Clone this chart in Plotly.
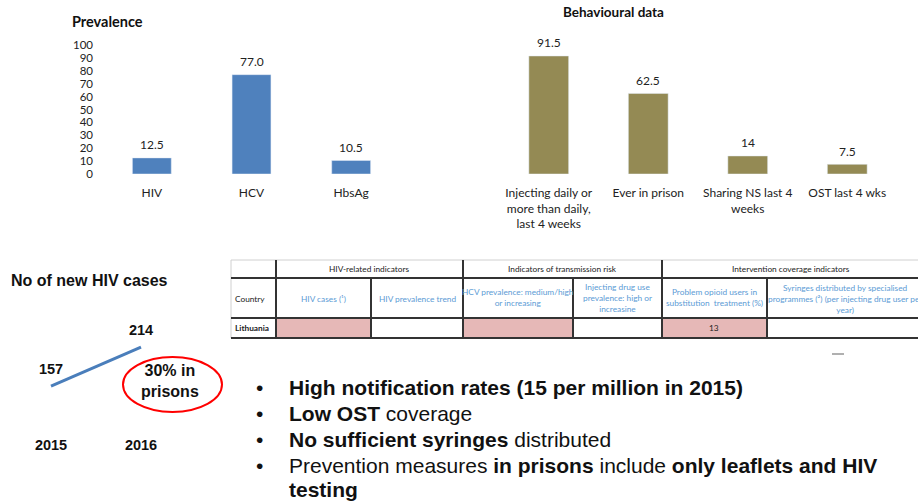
import plotly.graph_objects as go

# ── Data ────────────────────────────────────────────────────────────────────────
prev_labels = ["HIV", "HCV", "HbsAg"]
prev_values = [12.5, 77.0, 10.5]
prev_text = ["12.5", "77.0", "10.5"]

behav_labels = [
    "Injecting daily or<br>more than daily,<br>last 4 weeks",
    "Ever in prison",
    "Sharing NS last 4<br>weeks",
    "OST last 4 wks",
]
behav_values = [91.5, 62.5, 14, 7.5]
behav_text = ["91.5", "62.5", "14", "7.5"]

years = ["2015", "2016"]
new_hiv_cases = [157, 214]

W, H = 918, 502
CHART_FONT = "Lato, 'Open Sans', sans-serif"
ARIAL = "'Liberation Sans', Arial, sans-serif"
BLUE = "#4F81BD"
OLIVE = "#948A54"
PINK = "#E6B8B7"
HDR_BLUE = "#5B9BD5"


def px(x):
    return x / W


def py(y):
    return 1 - y / H


fig = go.Figure()

# ── Prevalence bars ─────────────────────────────────────────────────────────────
fig.add_trace(go.Bar(
    x=prev_labels, y=prev_values,
    marker_color=BLUE, width=0.39,
    xaxis="x", yaxis="y", showlegend=False,
))

# ── Behavioural bars ────────────────────────────────────────────────────────────
fig.add_trace(go.Bar(
    x=behav_labels, y=behav_values,
    marker_color=OLIVE, width=0.40,
    xaxis="x2", yaxis="y2", showlegend=False,
))

# ── New HIV cases line (invisible markers push the labels up a little) ─────────
fig.add_trace(go.Scatter(
    x=years, y=new_hiv_cases, text=[str(v) for v in new_hiv_cases],
    mode="lines+markers+text", textposition="top center", cliponaxis=False,
    textfont=dict(family=ARIAL, size=14.5, color="#111", weight="bold"),
    marker=dict(size=12, color="rgba(0,0,0,0)"),
    line=dict(color="#4A7EBB", width=3),
    xaxis="x3", yaxis="y3", showlegend=False,
))

ydom = [py(174), py(45)]
tick_font = dict(family=CHART_FONT, size=11.5, color="#222")

annotations = []

# bar value labels, placed from the data
for xs, ys, ts, xr, yr in [(prev_labels, prev_values, prev_text, "x", "y"),
                           (behav_labels, behav_values, behav_text, "x2", "y2")]:
    for xv, yv, tv in zip(xs, ys, ts):
        annotations.append(dict(
            x=xv, y=yv, xref=xr, yref=yr, text=tv, showarrow=False,
            yanchor="middle", yshift=13,
            font=dict(family=CHART_FONT, size=12, color="#222"),
        ))

# ── Table (shapes + text) ───────────────────────────────────────────────────────
shapes = []


def line(x0, y0, x1, y1, color="#333", width=2):
    shapes.append(dict(type="line", xref="paper", yref="paper",
                       x0=px(x0), y0=py(y0), x1=px(x1), y1=py(y1),
                       line=dict(color=color, width=width)))


for x0, x1 in [(276, 371), (463, 573), (662, 767)]:
    shapes.append(dict(type="rect", xref="paper", yref="paper",
                       x0=px(x0), x1=px(x1), y0=py(337), y1=py(319),
                       fillcolor=PINK, line=dict(width=0), layer="below"))

line(231, 260, 918, 260, color="#d0d0d0", width=1)
line(231, 260, 231, 338, color="#d0d0d0", width=1)
line(231, 278, 918, 278)
line(231, 318, 918, 318)
line(231, 338, 918, 338)
for x in [276, 463, 662]:
    line(x, 260, x, 338)
for x in [371, 573, 767]:
    line(x, 278, x, 338)
line(832, 354, 844, 354, color="#b0b0b0", width=2)

# red ellipse
shapes.append(dict(type="circle", xref="paper", yref="paper",
                   x0=px(123), x1=px(222), y0=py(412), y1=py(357),
                   line=dict(color="#FF0000", width=2)))


def txt(text, x, y, size=8.3, color="#222", family=CHART_FONT, anchor="center", bold=False):
    annotations.append(dict(
        text=text, x=px(x), y=py(y), xref="paper", yref="paper",
        xanchor=anchor, yanchor="middle", showarrow=False,
        align="center" if anchor == "center" else "left",
        font=dict(family=family, size=size, color=color,
                  weight="bold" if bold else "normal"),
    ))


# table text
txt("HIV-related indicators", 369, 269)
txt("Indicators of transmission risk", 562, 269)
txt("Intervention coverage indicators", 791, 269)
txt("Country", 233, 299, anchor="left")
txt("HIV cases (¹)", 323, 299, color=HDR_BLUE)
txt("HIV prevalence trend", 417, 299, color=HDR_BLUE)
txt("HCV prevalence: medium/high<br>or increasing", 518, 297, color=HDR_BLUE)
txt("Injecting drug use<br>prevalence: high or<br>increasine", 617, 298, color=HDR_BLUE)
txt("Problem opioid users in<br>substitution  treatment (%)", 714, 297, color=HDR_BLUE)
txt("Syringes distributed by specialised<br>programmes (²) (per injecting drug user per<br>year)",
    845, 299, color=HDR_BLUE)
txt("Lithuania", 233, 328, anchor="left", bold=True)
txt("13", 714, 328)

# chart titles
txt("Prevalence", 70, 22, size=14.5, anchor="left", color="#111", bold=True)
txt("Behavioural data", 613, 12, size=13.5, color="#111", bold=True)
txt("No of new HIV cases", 9, 280, size=16, family=ARIAL, anchor="left", color="#111", bold=True)
txt("30% in<br>prisons", 170, 381, size=16, family=ARIAL, color="#111", bold=True)

# bullet points
bullets = [
    "<b>High notification rates (15 per million in 2015)</b>",
    "<b>Low OST</b> coverage",
    "<b>No sufficient syringes</b> distributed",
    "Prevention measures <b>in prisons</b> include <b>only leaflets and HIV</b>",
]
for i, b in enumerate(bullets):
    y = 387.5 + i * 26
    txt("•", 254, y, size=21, family=ARIAL, anchor="left", color="#111")
    txt(b, 287, y, size=21, family=ARIAL, anchor="left", color="#111")
txt("<b>testing</b>", 287, 489, size=21, family=ARIAL, anchor="left", color="#111")

fig.update_layout(
    width=W, height=H,
    margin=dict(l=0, r=0, t=0, b=0, autoexpand=False),
    paper_bgcolor="white", plot_bgcolor="rgba(0,0,0,0)",
    xaxis=dict(domain=[px(102), px(401)], anchor="y", showgrid=False, showline=False,
               zeroline=False, ticks="", tickfont=dict(tick_font, size=12),
               ticklabelstandoff=10, automargin=False),
    yaxis=dict(domain=ydom, range=[0, 100], dtick=10, showgrid=False, showline=False,
               zeroline=False, ticks="", tickfont=tick_font, ticklabelstandoff=8,
               automargin=False),
    xaxis2=dict(domain=[px(499), px(897)], anchor="y2", showgrid=False, showline=False,
                zeroline=False, ticks="", tickfont=dict(tick_font, size=12),
                ticklabelstandoff=10, automargin=False),
    yaxis2=dict(domain=ydom, range=[0, 100], anchor="x2", visible=False, automargin=False),
    xaxis3=dict(domain=[px(6), px(186)], range=[-0.5, 1.5], type="category", anchor="y3",
                showgrid=False, showline=False, zeroline=False, ticks="",
                ticklabelstandoff=2, automargin=False,
                tickfont=dict(family=ARIAL, size=14.5, color="#111", weight="bold")),
    yaxis3=dict(domain=[py(432), py(330)], range=[90, 239], anchor="x3", visible=False,
                automargin=False),
    shapes=shapes,
    annotations=annotations,
    hovermode=False,
)

# page body has a default 8px margin; drop it so the figure sits at the window corner
fig.write_html("out.html", config={"displayModeBar": False},
               post_script="document.body.style.margin='0';")
